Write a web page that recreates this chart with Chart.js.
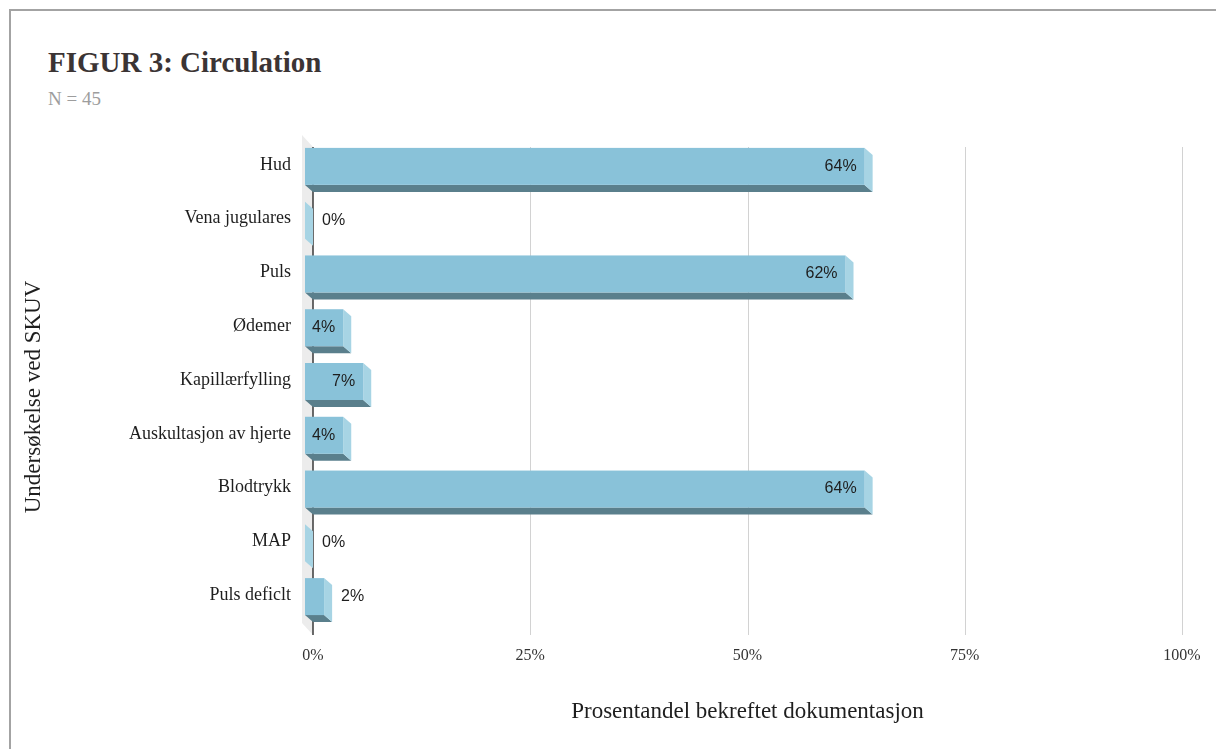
<!DOCTYPE html>
<html>
<head>
<meta charset="utf-8">
<script src="https://cdn.jsdelivr.net/npm/chart.js@4.4.1/dist/chart.umd.min.js"></script>
<style>
    body { margin: 0; background: #fff; }
    .page { position: relative; width: 1216px; height: 749px; overflow: hidden; }
    .frame { position: absolute; left: 9px; top: 9px; right: 0; bottom: 0; border-top: 2px solid #a3a3a3; border-left: 2px solid #a3a3a3; }
    .title { position: absolute; left: 48px; top: 46px; font: bold 29px 'Liberation Serif', serif; color: #3b3434; }
    .subtitle { position: absolute; left: 48px; top: 88px; font: 19px 'Liberation Serif', serif; color: #9d9d9d; }
    canvas { position: absolute; left: 0; top: 0; }
</style>
</head>
<body>
<div class="page">
    <div class="frame"></div>
    <div class="title">FIGUR 3: Circulation</div>
    <div class="subtitle">N = 45</div>
    <canvas id="circChart" width="1216" height="749"></canvas>
</div>
<script>
// Data
const categories = ['Hud', 'Vena jugulares', 'Puls', 'Ødemer', 'Kapillærfylling', 'Auskultasjon av hjerte', 'Blodtrykk', 'MAP', 'Puls deficlt'];
const percentages = [64.4, 0, 62.2, 4.4, 6.7, 4.4, 64.4, 0, 2.2];
const xTicks = [0, 25, 50, 75, 100];
const yTitle = 'Undersøkelse ved SKUV';

// 3D look
const FRONT = '#89c2d9';
const SIDE = '#a7d4e4';
const UNDER = '#5a7f8c';
const DX = 8, DY = 7;

const bar3d = {
    id: 'bar3d',
    beforeDatasetsDraw(chart) {
        const { ctx, chartArea, scales: { x } } = chart;
        const x0 = x.getPixelForValue(0);
        const top = chartArea.top + 9;
        const bottom = chartArea.bottom + 13;
        ctx.save();
        // left wall
        ctx.fillStyle = '#ececec';
        ctx.beginPath();
        ctx.moveTo(x0 - 11, top - 12);
        ctx.lineTo(x0, top);
        ctx.lineTo(x0, bottom);
        ctx.lineTo(x0 - 11, bottom - 12);
        ctx.closePath();
        ctx.fill();
        // grid lines
        ctx.strokeStyle = '#d2d2d2';
        ctx.lineWidth = 1;
        xTicks.forEach(t => {
            if (t === 0) return;
            const px = Math.round(x.getPixelForValue(t)) + 0.5;
            ctx.beginPath();
            ctx.moveTo(px, top);
            ctx.lineTo(px, bottom);
            ctx.stroke();
        });
        // zero axis
        ctx.strokeStyle = '#3a3a3a';
        ctx.lineWidth = 1.5;
        ctx.beginPath();
        ctx.moveTo(x0, top);
        ctx.lineTo(x0, bottom);
        ctx.stroke();
        ctx.restore();
    },
    afterDatasetsDraw(chart) {
        const { ctx } = chart;
        const meta = chart.getDatasetMeta(0);
        ctx.save();
        ctx.font = '16px "Liberation Sans", Arial, sans-serif';
        ctx.textBaseline = 'middle';
        meta.data.forEach((bar, i) => {
            const h = bar.height;
            const left = bar.base - DX;
            const right = bar.x - DX;
            const ft = bar.y - h / 2 + 1.5;
            const fb = ft + h;

            // underside
            ctx.fillStyle = UNDER;
            ctx.beginPath();
            ctx.moveTo(left, fb);
            ctx.lineTo(right, fb);
            ctx.lineTo(right + DX, fb + DY);
            ctx.lineTo(left + DX, fb + DY);
            ctx.closePath();
            ctx.fill();

            // side
            ctx.fillStyle = SIDE;
            ctx.beginPath();
            ctx.moveTo(right, ft);
            ctx.lineTo(right + DX, ft + DY);
            ctx.lineTo(right + DX, fb + DY);
            ctx.lineTo(right, fb);
            ctx.closePath();
            ctx.fill();

            // front
            ctx.fillStyle = FRONT;
            ctx.fillRect(left, ft, right - left, h);

            // value label
            const txt = Math.round(percentages[i]) + '%';
            const tw = ctx.measureText(txt).width;
            ctx.fillStyle = '#1e1e1e';
            if (right - left > tw + 10) {
                ctx.textAlign = 'right';
                ctx.fillText(txt, right - 8, ft + h / 2);
            } else {
                ctx.textAlign = 'left';
                ctx.fillText(txt, bar.x + 9, ft + h / 2);
            }
        });
        ctx.restore();
    },
    afterDraw(chart) {
        // y axis title, centred a bit lower than the plot area like the original
        const { ctx } = chart;
        ctx.save();
        ctx.translate(34, 397);
        ctx.rotate(-Math.PI / 2);
        ctx.font = '23px "Liberation Serif", serif';
        ctx.fillStyle = '#1e1e1e';
        ctx.textAlign = 'center';
        ctx.textBaseline = 'middle';
        ctx.fillText(yTitle, 0, 0);
        ctx.restore();
    }
};

new Chart(document.getElementById('circChart'), {
    type: 'bar',
    data: {
        labels: categories,
        datasets: [{
            data: percentages,
            backgroundColor: 'rgba(0,0,0,0)',
            barPercentage: 0.86,
            categoryPercentage: 0.8
        }]
    },
    options: {
        indexAxis: 'y',
        responsive: false,
        animation: false,
        layout: { padding: { top: 138, right: 34, bottom: 23, left: 48 } },
        plugins: {
            legend: { display: false },
            tooltip: { enabled: false }
        },
        scales: {
            x: {
                min: 0,
                max: 100,
                afterBuildTicks: axis => { axis.ticks = xTicks.map(v => ({ value: v })); },
                afterFit: axis => {
                    axis.height = 104;
                    axis.paddingRight = 0;
                    axis.paddingLeft = 0;
                },
                grid: { display: false, drawTicks: false },
                border: { display: false },
                ticks: {
                    padding: 24,
                    color: '#333',
                    font: { family: "'Liberation Serif', serif", size: 16 },
                    callback: v => v + '%'
                },
                title: {
                    display: true,
                    text: 'Prosentandel bekreftet dokumentasjon',
                    color: '#1e1e1e',
                    font: { family: "'Liberation Serif', serif", size: 23 },
                    padding: 0
                }
            },
            y: {
                afterFit: axis => { axis.width = 265; },
                grid: { display: false, drawTicks: false },
                border: { display: false },
                ticks: {
                    padding: 22,
                    color: '#1e1e1e',
                    font: { family: "'Liberation Serif', serif", size: 18 }
                }
            }
        }
    },
    plugins: [bar3d]
});
</script>
</body>
</html>
